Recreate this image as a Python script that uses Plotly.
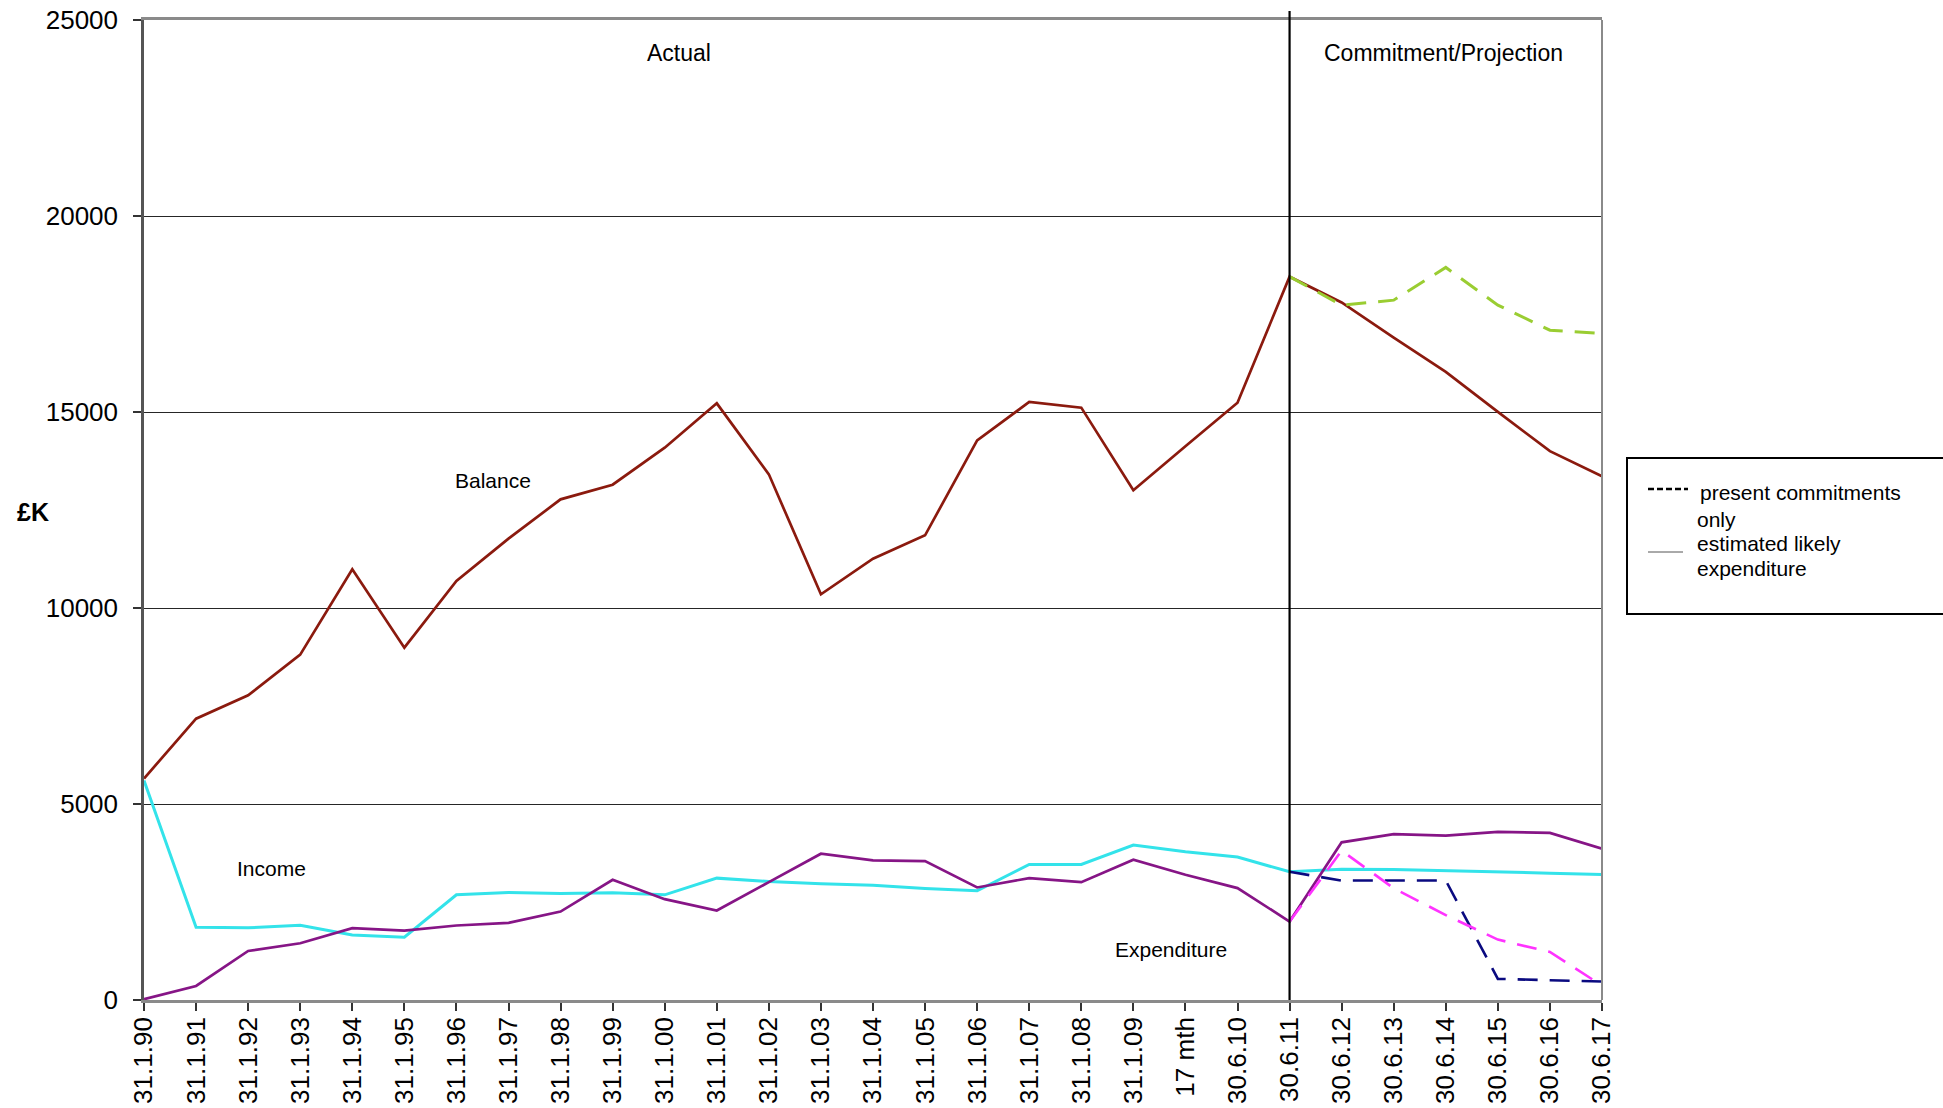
import plotly.graph_objects as go

# ---- data ----
categories = ["31.1.90", "31.1.91", "31.1.92", "31.1.93", "31.1.94", "31.1.95", "31.1.96",
              "31.1.97", "31.1.98", "31.1.99", "31.1.00", "31.1.01", "31.1.02", "31.1.03",
              "31.1.04", "31.1.05", "31.1.06", "31.1.07", "31.1.08", "31.1.09", "17 mth",
              "30.6.10", "30.6.11", "30.6.12", "30.6.13", "30.6.14", "30.6.15", "30.6.16",
              "30.6.17"]

balance = [5650, 7177, 7772, 8810, 10987, 8988, 10689, 11769, 12772, 13146, 14090, 15221,
           13410, 10349, 11259, 11854, 14277, 15255, 15111, 13002, 14124, 15238, 18452,
           17795, 16900, 16024, 15003, 14000, 13361]

income = [5600, 1857, 1840, 1908, 1661, 1601, 2683, 2743, 2717, 2734, 2683, 3109, 3024,
          2964, 2930, 2845, 2785, 3458, 3458, 3952, 3782, 3646, 3271, 3338, 3330, 3304,
          3278, 3236, 3201]

expenditure = [20, 358, 1252, 1448, 1831, 1772, 1900, 1968, 2257, 3066, 2572, 2283, 3007,
               3731, 3561, 3543, 2871, 3109, 3007, 3578, 3194, 2854, 2002, 4023, 4229,
               4194, 4289, 4263, 3861]

# present commitments only (projection period)
balance_committed = [None] * 22 + [18452, 17726, 17853, 18688, 17726, 17088, 17003]
income_committed = [None] * 22 + [3271, 3047, 3047, 3047, 539, 496, 471]
expenditure_committed = [None] * 22 + [2002, 3809, 2850, 2166, 1541, 1224, 368]

y_ticks = [0, 5000, 10000, 15000, 20000, 25000]
y_tick_labels = ["0", "5000", "10000", "15000", "20000", "25000"]
split_index = 22

x = list(range(len(categories)))
FONT = "Liberation Sans, Arial, sans-serif"

fig = go.Figure()

fig.add_trace(go.Scatter(x=x, y=income, mode="lines", name="Income",
                         line=dict(color="#33E3EA", width=3)))
fig.add_trace(go.Scatter(x=x, y=expenditure, mode="lines", name="Expenditure",
                         line=dict(color="#861586", width=2.7)))
fig.add_trace(go.Scatter(x=x, y=balance, mode="lines", name="Balance",
                         line=dict(color="#8B1A0E", width=2.7)))
fig.add_trace(go.Scatter(x=x, y=balance_committed, mode="lines", name="Balance (commitments)",
                         line=dict(color="#9ACD32", width=3, dash="20px,12px")))
fig.add_trace(go.Scatter(x=x, y=income_committed, mode="lines", name="Income (commitments)",
                         line=dict(color="#0A0A80", width=2.6, dash="20px,12px")))
fig.add_trace(go.Scatter(x=x, y=expenditure_committed, mode="lines",
                         name="Expenditure (commitments)",
                         line=dict(color="#FF33FF", width=2.6, dash="20px,12px")))

L, R, T, B = 144, 1602, 20, 1000
W, H = 1943, 1108

def px(xp):
    return (xp - L) / (R - L)

def py(yp):
    return (B - yp) / (B - T)

shapes = [
    # divider between actual and projection
    dict(type="line", xref="x", yref="paper", x0=split_index, x1=split_index,
         y0=0, y1=py(11), line=dict(color="black", width=2.2)),
    # right border
    dict(type="line", xref="paper", yref="paper", x0=1, x1=1, y0=0, y1=1,
         line=dict(color="#8a8a8a", width=2)),
    # legend box
    dict(type="rect", xref="paper", yref="paper", x0=px(1627), x1=px(1975),
         y0=py(614), y1=py(458), line=dict(color="black", width=2), fillcolor="white"),
    dict(type="line", xref="paper", yref="paper", x0=px(1648), x1=px(1688),
         y0=py(489), y1=py(489), line=dict(color="black", width=2.5, dash="6px,3px")),
    dict(type="line", xref="paper", yref="paper", x0=px(1648), x1=px(1683),
         y0=py(552), y1=py(552), line=dict(color="#555", width=1)),
]

def ann(text, xv, yv, size, xref="x", yref="y", xanchor="center", bold=False):
    return dict(text=f"<b>{text}</b>" if bold else text, x=xv, y=yv, xref=xref, yref=yref,
                showarrow=False, xanchor=xanchor, yanchor="middle",
                font=dict(family=FONT, size=size, color="black"))

annotations = [
    ann("Actual", 10.27, 24160, 23),
    ann("Commitment/Projection", 24.95, 24160, 23),
    ann("Balance", 6.71, 13265, 21),
    ann("Income", 2.44, 3367, 21),
    ann("Expenditure", 19.73, 1276, 21),
    ann("£K", px(33), py(512), 25, xref="paper", yref="paper", bold=True),
    ann("present commitments", px(1698), py(492), 21, "paper", "paper", "left"),
    ann("only", px(1695), py(519), 21, "paper", "paper", "left"),
    ann("estimated likely", px(1695), py(543), 21, "paper", "paper", "left"),
    ann("expenditure", px(1695), py(568), 21, "paper", "paper", "left"),
]

fig.update_layout(
    width=W, height=H,
    margin=dict(l=L, r=W - R, t=T, b=H - B, autoexpand=False),
    paper_bgcolor="white", plot_bgcolor="white",
    showlegend=False,
    font=dict(family=FONT, size=26, color="black"),
    shapes=shapes, annotations=annotations,
)

fig.update_xaxes(
    range=[0, len(categories) - 1], tickmode="array", tickvals=x, ticktext=categories,
    tickangle=-90, ticks="outside", ticklen=8, tickwidth=1.5, tickcolor="#333",
    showline=True, linecolor="#8a8a8a", linewidth=2.5, mirror=True,
    showgrid=False, zeroline=False, tickfont=dict(size=26, family=FONT, color="black"),
    ticklabelstandoff=-4,
)
fig.update_yaxes(
    range=[0, 25000], tickmode="array", tickvals=y_ticks, ticktext=y_tick_labels,
    ticks="outside", ticklen=8, tickwidth=1.5, tickcolor="#333",
    showline=True, linecolor="#555", linewidth=2.5,
    showgrid=True, gridcolor="#262626", gridwidth=1.2, zeroline=False,
    tickfont=dict(size=26, family=FONT, color="black"), ticklabelstandoff=10,
)

fig.write_html("out.html", config={"displayModeBar": False},
               post_script="document.body.style.margin='0px';document.body.style.overflow='hidden';")
